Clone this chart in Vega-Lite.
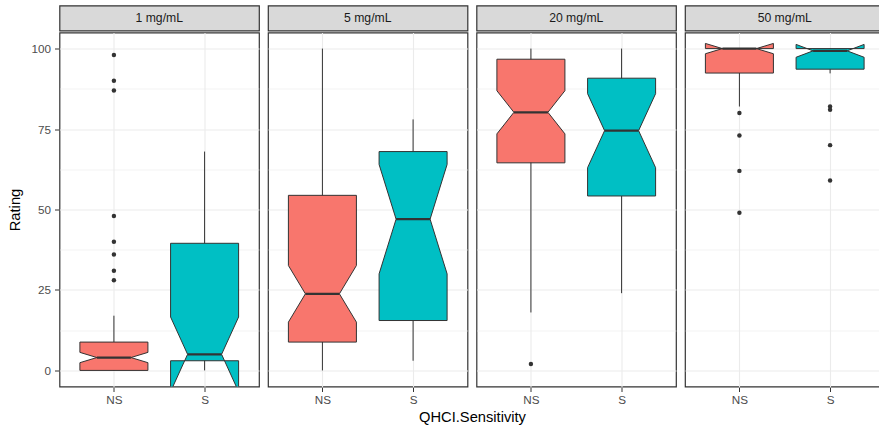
{
  "$schema": "https://vega.github.io/schema/vega-lite/v6.json",
  "background": "white",
  "padding": {"left": 7.5, "top": 4.5, "right": 0, "bottom": 0},
  "spacing": 0,
  "resolve": {"scale": {"x": "independent", "y": "independent"}},
  "config": {
    "font": "Liberation Sans",
    "view": {"stroke": null},
    "axis": {
      "domain": false,
      "tickColor": "#333333",
      "tickSize": 4,
      "tickWidth": 1,
      "labelFontSize": 11.7,
      "labelColor": "#4D4D4D",
      "labelPadding": 4,
      "labelFlush": false,
      "labelOverlap": false,
      "titleFontSize": 14.7,
      "titleFontWeight": "normal",
      "titleColor": "#000000",
      "titlePadding": 8,
      "gridColor": "#EBEBEB"
    },
    "axisX": {"labelPadding": 3}
  },
  "datasets": {
    "ratings": [
      {"conc": "1 mg/mL", "group": "NS", "lower": 0, "q1": 0, "notch_lo": 2.4, "median": 4, "notch_hi": 5.6, "q3": 8.8, "upper": 17},
      {"conc": "1 mg/mL", "group": "S", "lower": 0, "q1": 3, "notch_lo": -6.6, "median": 5, "notch_hi": 16.6, "q3": 39.5, "upper": 68},
      {"conc": "5 mg/mL", "group": "NS", "lower": 0, "q1": 8.8, "notch_lo": 15, "median": 23.8, "notch_hi": 32.6, "q3": 54.4, "upper": 100},
      {"conc": "5 mg/mL", "group": "S", "lower": 3, "q1": 15.5, "notch_lo": 30, "median": 47, "notch_hi": 64, "q3": 68, "upper": 78},
      {"conc": "20 mg/mL", "group": "NS", "lower": 18, "q1": 64.5, "notch_lo": 73.5, "median": 80.2, "notch_hi": 86.9, "q3": 96.7, "upper": 100},
      {"conc": "20 mg/mL", "group": "S", "lower": 24, "q1": 54.2, "notch_lo": 63, "median": 74.5, "notch_hi": 86, "q3": 90.8, "upper": 100},
      {"conc": "50 mg/mL", "group": "NS", "lower": 82, "q1": 92.4, "notch_lo": 98.4, "median": 100, "notch_hi": 101.6, "q3": 100, "upper": 100},
      {"conc": "50 mg/mL", "group": "S", "lower": 92.3, "q1": 93.6, "notch_lo": 97.3, "median": 99.3, "notch_hi": 101.3, "q3": 100, "upper": 100},
      {"conc": "1 mg/mL", "group": "NS", "rating": 98},
      {"conc": "1 mg/mL", "group": "NS", "rating": 90},
      {"conc": "1 mg/mL", "group": "NS", "rating": 87},
      {"conc": "1 mg/mL", "group": "NS", "rating": 48},
      {"conc": "1 mg/mL", "group": "NS", "rating": 40},
      {"conc": "1 mg/mL", "group": "NS", "rating": 36},
      {"conc": "1 mg/mL", "group": "NS", "rating": 31},
      {"conc": "1 mg/mL", "group": "NS", "rating": 28},
      {"conc": "20 mg/mL", "group": "NS", "rating": 2},
      {"conc": "50 mg/mL", "group": "NS", "rating": 80},
      {"conc": "50 mg/mL", "group": "NS", "rating": 73},
      {"conc": "50 mg/mL", "group": "NS", "rating": 62},
      {"conc": "50 mg/mL", "group": "NS", "rating": 49},
      {"conc": "50 mg/mL", "group": "S", "rating": 82},
      {"conc": "50 mg/mL", "group": "S", "rating": 81},
      {"conc": "50 mg/mL", "group": "S", "rating": 70},
      {"conc": "50 mg/mL", "group": "S", "rating": 59}
    ]
  },
  "data": {"name": "ratings"},
  "vconcat": [
    {
      "transform": [
        {"filter": "isValid(datum.median)"},
        {"aggregate": [{"op": "count", "as": "n"}], "groupby": ["conc"]}
      ],
      "facet": {
        "column": {
          "field": "conc",
          "sort": ["1 mg/mL", "5 mg/mL", "20 mg/mL", "50 mg/mL"],
          "header": null
        }
      },
      "spacing": 6.5,
      "spec": {
        "width": 199.5,
        "height": 25,
        "view": {"fill": "#D9D9D9", "stroke": "#333333", "strokeWidth": 1.2},
        "mark": {"type": "text", "fontSize": 12.2, "color": "#1A1A1A", "baseline": "middle"},
        "encoding": {
          "text": {"field": "conc"},
          "y": {
            "datum": 0.5, "type": "quantitative",
            "scale": {"domain": [0, 1], "nice": false, "zero": false},
            "axis": {
              "values": [0.5],
              "labelExpr": "'100'",
              "title": "R",
              "grid": false,
              "labelOpacity": 0,
              "titleOpacity": 0,
              "tickOpacity": 0
            }
          }
        }
      }
    },
    {
      "facet": {
        "column": {
          "field": "conc",
          "sort": ["1 mg/mL", "5 mg/mL", "20 mg/mL", "50 mg/mL"],
          "header": {
            "labels": false,
            "title": "QHCI.Sensitivity",
            "titleOrient": "bottom",
            "titleFontSize": 14.7,
            "titleFontWeight": "normal",
            "titleColor": "#000000",
            "titlePadding": -7
          }
        }
      },
      "spacing": 6.5,
      "spec": {
        "width": 199.5,
        "height": 354,
        "view": {"stroke": "#333333", "strokeWidth": 1.2},
        "layer": [
          {
            "transform": [
              {"filter": "isValid(datum.median)"},
              {"calculate": "datum.group === 'NS' ? 1 : 2", "as": "xpos"}
            ],
            "mark": {"type": "rule", "color": "#333333", "strokeWidth": 1},
            "encoding": {
              "x": {
                "field": "xpos", "type": "quantitative",
                "scale": {"domain": [0.4, 2.6], "nice": false, "zero": false},
                "axis": {
                  "values": [1, 2],
                  "labelExpr": "datum.value === 1 ? 'NS' : 'S'",
                  "title": null,
                  "grid": true, "gridWidth": 1.1
                }
              },
              "y": {
                "field": "lower", "type": "quantitative",
                "scale": {"domain": [-5, 105], "nice": false, "zero": false},
                "axis": {
                  "values": [0, 12.5, 25, 37.5, 50, 62.5, 75, 87.5, 100],
                  "labelExpr": "datum.value % 25 === 0 ? datum.label : ''",
                  "title": "Rating",
                  "grid": true,
                  "gridWidth": {"condition": {"test": "datum.value % 25 !== 0", "value": 0.6}, "value": 1.1},
                  "tickOpacity": {"condition": {"test": "datum.value % 25 !== 0", "value": 0}, "value": 1}
                }
              },
              "y2": {"field": "upper"}
            }
          },
          {
            "transform": [
              {"filter": "isValid(datum.median)"},
              {"fold": ["q3", "notch_hi", "median", "notch_lo", "q1"], "as": ["stat", "rating"]},
              {"calculate": "indexof(['q3', 'notch_hi', 'median', 'notch_lo', 'q1'], datum.stat)", "as": "k"},
              {"calculate": "[0, 1, 2]", "as": "side"},
              {"flatten": ["side"]},
              {"filter": "datum.side < 2 || datum.k === 0"},
              {"calculate": "datum.group === 'NS' ? 1 : 2", "as": "xpos"},
              {"calculate": "datum.stat === 'median' ? 0.1875 : 0", "as": "inset"},
              {"calculate": "datum.side === 1 ? datum.xpos + 0.375 - datum.inset : datum.xpos - 0.375 + datum.inset", "as": "vx"},
              {"calculate": "datum.side === 0 ? datum.k : (datum.side === 1 ? 9 - datum.k : 10)", "as": "step"}
            ],
            "mark": {"type": "line", "stroke": "#333333", "strokeWidth": 1, "clip": true, "strokeJoin": "miter"},
            "encoding": {
              "x": {"field": "vx", "type": "quantitative", "title": null},
              "y": {"field": "rating", "type": "quantitative", "title": "Rating"},
              "order": {"field": "step", "type": "quantitative"},
              "fill": {
                "field": "group", "type": "nominal",
                "scale": {"domain": ["NS", "S"], "range": ["#F8766D", "#00BFC4"]},
                "legend": null
              }
            }
          },
          {
            "transform": [
              {"filter": "isValid(datum.median)"},
              {"calculate": "datum.group === 'NS' ? 1 : 2", "as": "xpos"},
              {"calculate": "datum.xpos - 0.1875", "as": "ml"},
              {"calculate": "datum.xpos + 0.1875", "as": "mr"}
            ],
            "mark": {"type": "rule", "color": "#333333", "strokeWidth": 2.2},
            "encoding": {
              "x": {"field": "ml", "type": "quantitative", "title": null},
              "x2": {"field": "mr"},
              "y": {"field": "median", "type": "quantitative", "title": "Rating"}
            }
          },
          {
            "transform": [
              {"filter": "isValid(datum.rating)"},
              {"calculate": "datum.group === 'NS' ? 1 : 2", "as": "xpos"}
            ],
            "mark": {"type": "point", "filled": true, "color": "#333333", "size": 20, "opacity": 1},
            "encoding": {
              "x": {"field": "xpos", "type": "quantitative", "title": null},
              "y": {"field": "rating", "type": "quantitative", "title": "Rating"}
            }
          }
        ]
      }
    }
  ]
}
